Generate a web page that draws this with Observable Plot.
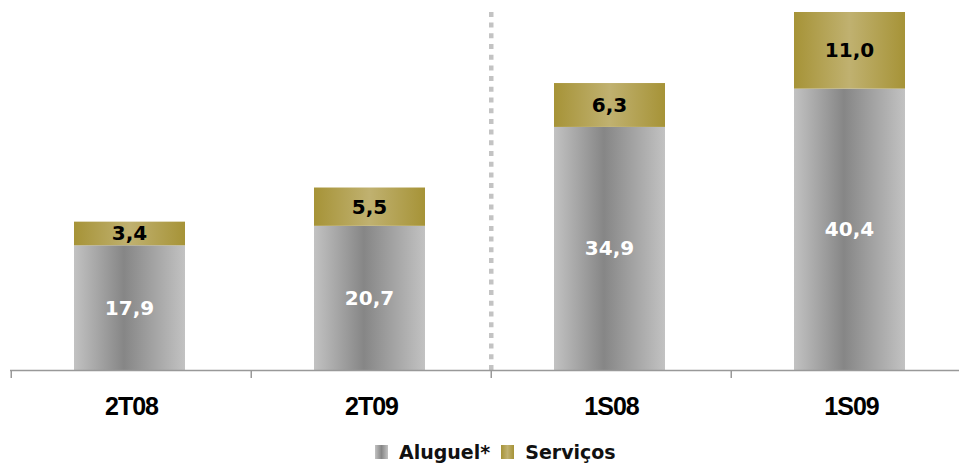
<!DOCTYPE html>
<html>
<head>
<meta charset="utf-8">
<script src="https://cdn.jsdelivr.net/npm/d3@7"></script>
<script src="https://cdn.jsdelivr.net/npm/@observablehq/plot@0.6"></script>
<style>
  html, body { margin: 0; padding: 0; background: #fff; width: 959px; height: 463px; overflow: hidden; }
  #chart { position: relative; width: 959px; height: 463px; }
  .cat-axis text { letter-spacing: -1px; }
  #legend { position: absolute; left: 375px; top: 441px; display: flex; align-items: center;
    font-family: "DejaVu Sans", sans-serif; font-weight: bold; font-size: 19px; color: #111; white-space: nowrap; }
  #legend .sw { display: inline-block; width: 13px; height: 14px; margin-right: 11px; }
  #legend .item { display: flex; align-items: center; margin-right: 11px; }
</style>
</head>
<body>
<div id="chart"></div>
<script>
const categories = ["2T08", "2T09", "1S08", "1S09"];
const aluguel = [17.9, 20.7, 34.9, 40.4];
const servicos = [3.4, 5.5, 6.3, 11.0];
const seriesNames = ["Aluguel*", "Serviços"];
const separatorBefore = "1S08";

const fmt = v => v.toFixed(1).replace(".", ",");
const rowsA = categories.map((c, i) => ({cat: c, y1: 0, y2: aluguel[i], mid: aluguel[i] / 2, label: fmt(aluguel[i])}));
const rowsS = categories.map((c, i) => ({cat: c, y1: aluguel[i], y2: aluguel[i] + servicos[i], mid: aluguel[i] + servicos[i] / 2, label: fmt(servicos[i])}));
const maxTotal = d3.max(categories.map((c, i) => aluguel[i] + servicos[i]));

const W = 959, H = 428;
const xRange = [10, 972];
const step = (xRange[1] - xRange[0]) / categories.length;
const font = "DejaVu Sans, sans-serif";

const svg = Plot.plot({
  width: W, height: H,
  marginLeft: 10, marginRight: 0, marginTop: 12, marginBottom: H - 370,
  style: {fontFamily: font, background: "transparent", overflow: "visible"},
  x: {domain: categories, range: xRange, padding: 0, label: null},
  y: {domain: [0, maxTotal], range: [370, 12], axis: null},
  marks: [
    Plot.barY(rowsA, {x: "cat", y1: "y1", y2: "y2", fill: "url(#gAlug)", insetLeft: 63, insetRight: 66}),
    Plot.barY(rowsS, {x: "cat", y1: "y1", y2: "y2", fill: "url(#gServ)", insetLeft: 63, insetRight: 66}),
    Plot.text(rowsA, {x: "cat", y: "mid", text: "label", fill: "#fff", fontSize: 20, fontWeight: "bold", dx: -2}),
    Plot.text(rowsS, {x: "cat", y: "mid", text: "label", fill: "#000", fontSize: 20, fontWeight: "bold", dx: -2}),
    Plot.ruleX([separatorBefore], {x: d => d, dx: -step / 2, y1: 0, y2: maxTotal, stroke: "#c3c3c3", strokeWidth: 4.5, strokeDasharray: "5,5.7", insetBottom: 3}),
    Plot.ruleY([0], {stroke: "#999", strokeWidth: 1.5}),
    Plot.axisX({tickSize: 8, text: null, label: null, dx: -step / 2, stroke: "#999", strokeWidth: 1.5}),
    Plot.axisX({tickSize: 0, tickPadding: 27, label: null, fontSize: 25, fontWeight: "bold", fill: "#000", className: "cat-axis", fontFamily: "Liberation Sans, Arial, sans-serif"})
  ]
});

d3.select(svg).insert("defs", ":first-child").html(`
  <linearGradient id="gAlug" x1="0" x2="1" y1="0" y2="0">
    <stop offset="0" stop-color="#c2c2c2"/>
    <stop offset="0.45" stop-color="#868686"/>
    <stop offset="1" stop-color="#c2c2c2"/>
  </linearGradient>
  <linearGradient id="gServ" x1="0" x2="1" y1="0" y2="0">
    <stop offset="0" stop-color="#a69337"/>
    <stop offset="0.5" stop-color="#c0b170"/>
    <stop offset="1" stop-color="#a69337"/>
  </linearGradient>`);

const chart = document.getElementById("chart");
chart.appendChild(svg);

const legend = document.createElement("div");
legend.id = "legend";
legend.innerHTML = `
  <span class="item"><span class="sw" style="background: linear-gradient(to right, #c2c2c2, #868686, #c2c2c2)"></span>${seriesNames[0]}</span>
  <span class="item"><span class="sw" style="background: linear-gradient(to right, #a69337, #c0b170, #a69337)"></span>${seriesNames[1]}</span>`;
chart.appendChild(legend);
</script>
</body>
</html>
